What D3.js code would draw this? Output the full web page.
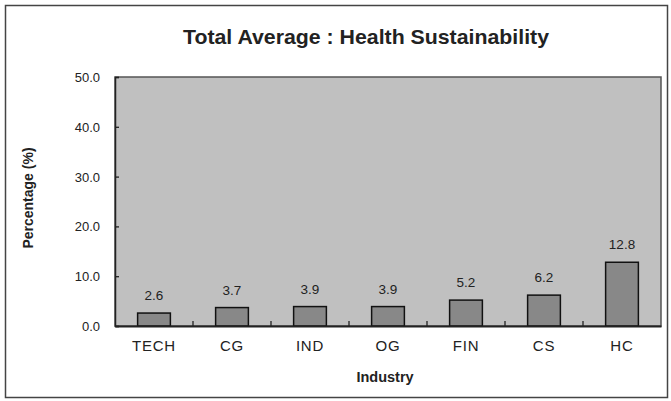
<!DOCTYPE html>
<html><head><meta charset="utf-8">
<script src="https://cdn.jsdelivr.net/npm/d3@7"></script>
<style>body{margin:0;background:#fff}svg{display:block}text{font-family:"Liberation Sans",Arial,sans-serif}</style>
</head><body>
<svg id="c" width="671" height="401"></svg>
<script>
const categories = ["TECH","CG","IND","OG","FIN","CS","HC"];
const values = [2.6,3.7,3.9,3.9,5.2,6.2,12.8];
const yTicks = [0,10,20,30,40,50];
const title = "Total Average : Health Sustainability";
const xTitle = "Industry";
const yTitle = "Percentage (%)";

const svg = d3.select("#c");
const m = {left:115, right:661, top:77, bottom:326};
svg.append("rect").attr("x",5.5).attr("y",5.5).attr("width",662).attr("height",392)
  .attr("fill","#fff").attr("stroke","#444").attr("stroke-width",1.5);

const x = d3.scaleBand().domain(categories).range([m.left,m.right]).paddingInner(0.58).paddingOuter(0.29);
const y = d3.scaleLinear().domain([0,50]).range([m.bottom,m.top]);

svg.append("rect").attr("x",m.left).attr("y",m.top).attr("width",m.right-m.left).attr("height",m.bottom-m.top)
  .attr("fill","#c0c0c0").attr("stroke","#555").attr("stroke-width",1.5);

svg.selectAll("rect.bar").data(values).join("rect").attr("class","bar")
  .attr("x",(d,i)=>x(categories[i])).attr("width",x.bandwidth())
  .attr("y",d=>y(d)).attr("height",d=>y(0)-y(d))
  .attr("fill","#888").attr("stroke","#111").attr("stroke-width",1.5);

svg.selectAll("text.val").data(values).join("text").attr("class","val")
  .attr("x",(d,i)=>x(categories[i])+x.bandwidth()/2).attr("y",d=>y(d)-13)
  .attr("text-anchor","middle").attr("font-size",13.5).attr("fill","#222").text(d=>d.toFixed(1));

// y axis
const ya = svg.append("g").attr("transform",`translate(${m.left},0)`)
  .call(d3.axisRight(y).tickValues(yTicks).tickSize(4).tickFormat(""));
ya.select(".domain").attr("stroke","#222").attr("stroke-width",1.5);
ya.selectAll("line").attr("stroke","#222").attr("stroke-width",1.3);
svg.selectAll("text.yt").data(yTicks).join("text").attr("class","yt")
  .attr("x",100).attr("y",d=>y(d)+5).attr("text-anchor","end").attr("font-size",13).attr("fill","#222")
  .text(d=>d.toFixed(1));

// x axis
const step = x.step();
const xa = svg.append("g").attr("transform",`translate(0,${m.bottom})`)
  .call(d3.axisBottom(x).tickSize(0).tickFormat(""));
xa.select(".domain").attr("stroke","#222").attr("stroke-width",1.8);
const sep = d3.range(1,categories.length).map(i=>x(categories[i])-x.paddingInner()*step/2);
svg.selectAll("line.sep").data(sep).join("line").attr("class","sep")
  .attr("x1",d=>d).attr("x2",d=>d).attr("y1",m.bottom).attr("y2",m.bottom-5)
  .attr("stroke","#222").attr("stroke-width",1.3);
svg.selectAll("text.cat").data(categories).join("text").attr("class","cat")
  .attr("x",d=>x(d)+x.bandwidth()/2).attr("y",351).attr("text-anchor","middle")
  .attr("font-size",15).attr("letter-spacing",0.8).attr("fill","#222").text(d=>d);

svg.append("text").attr("x",385).attr("y",382).attr("text-anchor","middle")
  .attr("font-size",14.5).attr("font-weight","bold").attr("fill","#222").text(xTitle);
svg.append("text").attr("transform","translate(33,198) rotate(-90)").attr("text-anchor","middle")
  .attr("font-size",14).attr("font-weight","bold").attr("fill","#222").text(yTitle);
svg.append("text").attr("x",366).attr("y",44).attr("text-anchor","middle")
  .attr("font-size",21).attr("font-weight","bold").attr("fill","#222")
  .attr("textLength",366).attr("lengthAdjust","spacingAndGlyphs").text(title);
</script>
</body></html>
